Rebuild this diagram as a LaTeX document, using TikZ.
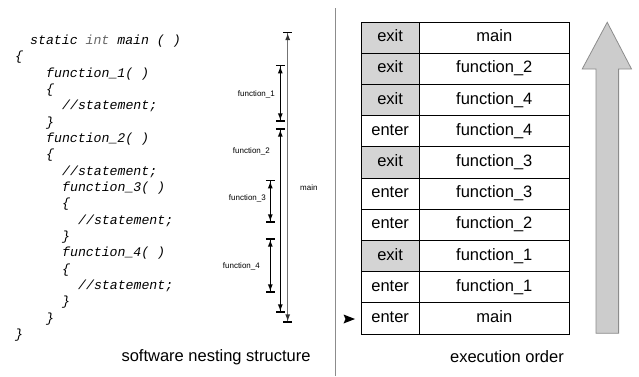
\documentclass[tikz,border=0pt]{standalone}
\usepackage{fontspec}
\setmainfont{Liberation Sans}
\newfontfamily\codefont{Liberation Mono}
\usetikzlibrary{arrows.meta}

\definecolor{cellgray}{gray}{0.83}
\definecolor{arrowgray}{gray}{0.80}
\definecolor{rulegray}{gray}{0.55}

\begin{document}
\begin{tikzpicture}[x=1pt,y=-1pt,
  code/.style={anchor=base west, inner sep=0pt,
    font=\codefont\itshape\fontsize{13.2}{13.2}\selectfont},
  spanline/.style={line width=1.3pt,
    {Bar[width=9pt,line width=1.3pt]Latex[length=7pt,width=5pt]}-{Latex[length=7pt,width=5pt]Bar[width=9pt,line width=1.3pt]}},
  mainline/.style={line width=1.2pt, draw=black!55,
    {Bar[width=9pt,line width=1.3pt,color=black]Latex[length=7pt,width=5pt,color=black!80]}-{Latex[length=7pt,width=5pt,color=black!80]Bar[width=9pt,line width=1.3pt,color=black]}},
  spanlabel/.style={anchor=east, inner sep=0pt, font=\fontsize{8}{8}\selectfont},
  cell/.style={draw, line width=0.8pt, minimum height=31.2pt, inner sep=0pt,
    text height=11.5pt, text depth=3.5pt, font=\fontsize{16.5}{16.5}\selectfont},
  evcell/.style={cell, minimum width=58.3pt},
  fncell/.style={cell, minimum width=150pt},
  caption/.style={inner sep=0pt, font=\fontsize{16.5}{16.5}\selectfont}
]
\useasboundingbox (0,0) rectangle (639,376);

% ---- nested source code ----
\def\lh{16.33}
\node[code] (c0)  at (30,44.5+0*\lh)  {static {\color{black!60}int} main ( )};
\node[code] (c1)  at (15,44.5+1*\lh)  {\{};
\node[code] (c2)  at (46,44.5+2*\lh)  {function\_1( )};
\node[code] (c3)  at (46,44.5+3*\lh)  {\{};
\node[code] (c4)  at (62,44.5+4*\lh)  {//statement;};
\node[code] (c5)  at (46,44.5+5*\lh)  {\}};
\node[code] (c6)  at (46,44.5+6*\lh)  {function\_2( )};
\node[code] (c7)  at (46,44.5+7*\lh)  {\{};
\node[code] (c8)  at (62,44.5+8*\lh)  {//statement;};
\node[code] (c9)  at (62,44.5+9*\lh)  {function\_3( )};
\node[code] (c10) at (62,44.5+10*\lh) {\{};
\node[code] (c11) at (78,44.5+11*\lh) {//statement;};
\node[code] (c12) at (62,44.5+12*\lh) {\}};
\node[code] (c13) at (62,44.5+13*\lh) {function\_4( )};
\node[code] (c14) at (62,44.5+14*\lh) {\{};
\node[code] (c15) at (78,44.5+15*\lh) {//statement;};
\node[code] (c16) at (62,44.5+16*\lh) {\}};
\node[code] (c17) at (46,44.5+17*\lh) {\}};
\node[code] (c18) at (15,44.5+18*\lh) {\}};

% ---- extent of each function ----
\coordinate (maintop) at (287.7,31.7);
\coordinate (mainbot) at (287.7,322.7);
\coordinate (f1top) at (280.3,65);
\coordinate (f1bot) at (280.3,121.7);
\coordinate (f2top) at (280.3,128.3);
\coordinate (f2bot) at (280.3,312.7);
\coordinate (f3top) at (270.3,180);
\coordinate (f3bot) at (270.3,222.7);
\coordinate (f4top) at (270.3,238.3);
\coordinate (f4bot) at (270.3,292.7);

\draw[mainline] (maintop) -- (mainbot);
\draw[spanline] (f1top) -- (f1bot);
\draw[spanline] (f2top) -- (f2bot);
\draw[spanline] (f3top) -- (f3bot);
\draw[spanline] (f4top) -- (f4bot);

\node[anchor=west, inner sep=0pt, font=\fontsize{8}{8}\selectfont] (lmain) at (300,188) {main};
\node[spanlabel] (l1) at (275,94)  {function\_1};
\node[spanlabel] (l2) at (270,151) {function\_2};
\node[spanlabel] (l3) at (266,198) {function\_3};
\node[spanlabel] (l4) at (260,266) {function\_4};

% ---- separator ----
\draw[rulegray, line width=1.4pt] (335.7,8) -- (335.7,376);

% ---- execution order table ----
\foreach \i/\ev/\fn/\sh in {0/exit/main/1, 1/exit/function\_2/1, 2/exit/function\_4/1,
    3/enter/function\_4/0, 4/exit/function\_3/1, 5/enter/function\_3/0,
    6/enter/function\_2/0, 7/exit/function\_1/1, 8/enter/function\_1/0, 9/enter/main/0} {
  \ifnum\sh=1
    \node[evcell, fill=cellgray] (ev\i) at (390.15,22+31.2*\i+15.6) {\ev};
  \else
    \node[evcell, fill=white] (ev\i) at (390.15,22+31.2*\i+15.6) {\ev};
  \fi
  \node[fncell] (fn\i) at (494.3,22+31.2*\i+15.6) {\fn};
}

% start marker
\fill (343.5,314.5) -- (355,319) -- (343.5,323.5) -- (345.5,319) -- cycle;

% direction of execution
\draw[draw=black!45, fill=arrowgray, line width=0.8pt]
  (596,333.3) -- (596,69) -- (582.2,69) -- (607.2,22.3) -- (631.5,69)
  -- (618.6,69) -- (618.6,333.3) -- cycle;

% ---- captions ----
\node[caption] (cap1) at (216,357) {software nesting structure};
\node[caption] (cap2) at (507,357) {execution order};
\end{tikzpicture}
\end{document}
